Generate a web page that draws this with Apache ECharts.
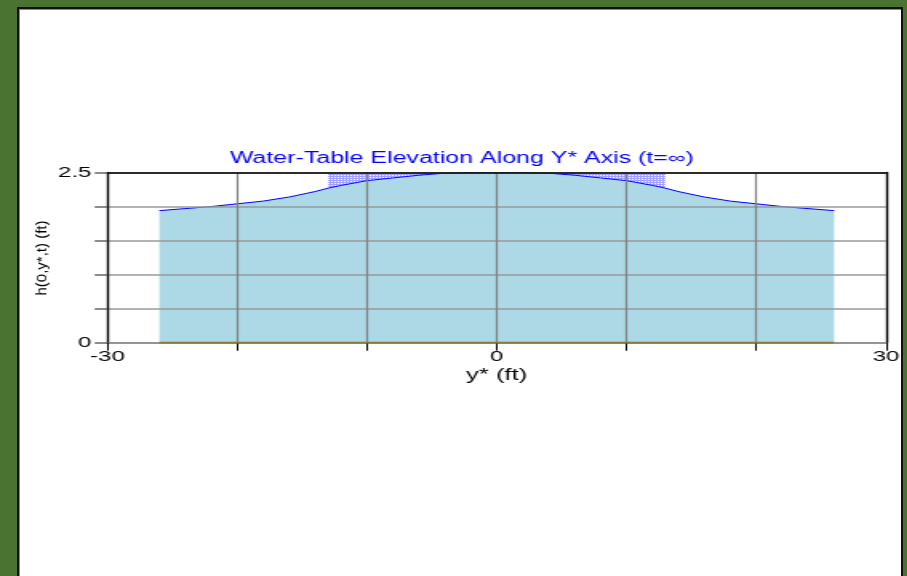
<!DOCTYPE html>
<html>
<head>
<meta charset="utf-8">
<script src="https://cdn.jsdelivr.net/npm/echarts@6/dist/echarts.min.js"></script>
<style>
  html, body { margin: 0; padding: 0; width: 907px; height: 576px; overflow: hidden; background: #4a7332; }
  #panel {
    position: absolute; left: 17px; top: 7px; width: 882px; height: 600px;
    background: #ffffff; border: 2px solid #111111; box-shadow: inset 1px 1px 0 #8a8a8a;
  }
  /* the plot is laid out narrow and widened, giving the broad lettering of the original viewer */
  #chart {
    position: absolute; left: 0; top: 0; width: 567px; height: 576px;
    transform: scaleX(1.6); transform-origin: 0 0;
  }
</style>
</head>
<body>
<div id="panel"></div>
<div id="chart"></div>
<script>
// Steady-state water-table profile along the y* axis
const yStar = [-26, -24, -22, -20, -18, -16, -14, -13, -12, -10, -8, -6, -4, -2, 0,
               2, 4, 6, 8, 10, 12, 13, 14, 16, 18, 20, 22, 24, 26];
const head  = [1.94, 1.97, 2.00, 2.04, 2.08, 2.14, 2.22, 2.27, 2.31, 2.38, 2.42, 2.46, 2.49, 2.50, 2.50,
               2.50, 2.49, 2.46, 2.42, 2.38, 2.31, 2.27, 2.22, 2.14, 2.08, 2.04, 2.00, 1.97, 1.94];
// Recharge strip (meshed band above the mound)
const rechargeZone = [-13, 13];
// Tick values that carry a label
const xLabelled = [-30, 0, 30];
const yLabelled = [0, 2.5];

const S = 1.6;            // horizontal widening of the chart layer
const W = 567;            // chart layer width before widening
const FONT = 'Liberation Sans, Arial, Helvetica, sans-serif';

const profile = yStar.map((y, i) => [y, head[i]]);
const recharge = profile.filter(p => p[0] >= rechargeZone[0] && p[0] <= rechargeZone[1]);
const base = [[yStar[0], 0], [yStar[yStar.length - 1], 0]];

function meshPattern() {
  const c = document.createElement('canvas');
  c.width = 2; c.height = 2;
  const g = c.getContext('2d');
  g.fillStyle = '#ffffff'; g.fillRect(0, 0, 2, 2);
  g.fillStyle = '#a0a0ff'; g.fillRect(0, 0, 2, 1); g.fillRect(0, 0, 1, 2);
  return c;
}

const chart = echarts.init(document.getElementById('chart'), null, { renderer: 'canvas' });
chart.setOption({
  animation: false,
  title: {
    text: 'Water-Table Elevation Along Y* Axis (t=∞)',
    left: 454 / S, top: 145.5, textAlign: 'center',
    textStyle: { color: '#0000ff', fontSize: 15.6, fontWeight: 'normal', fontFamily: FONT }
  },
  grid: { left: 107.5 / S, right: W - 886 / S, top: 172.5, bottom: 576 - 342.7 },
  xAxis: [{
    type: 'value', min: -30, max: 30, interval: 10, z: 5,
    axisLine: { show: true, onZero: false, lineStyle: { color: '#8a8a8a', width: 1.5 } },
    axisTick: { show: true, length: 8, lineStyle: { color: '#000000', width: 1 } },
    axisLabel: {
      margin: 7, fontSize: 15, color: '#000000', fontFamily: FONT,
      formatter: v => (xLabelled.includes(v) ? String(v) : '')
    },
    splitLine: { show: true, lineStyle: { color: '#808080', width: 1.2 } },
    name: 'y* (ft)', nameLocation: 'middle', nameGap: 25,
    nameTextStyle: { fontSize: 16, color: '#000000', fontFamily: FONT }
  }, {
    type: 'value', position: 'top', min: -30, max: 30, z: 5,
    axisLine: { show: true, onZero: false, lineStyle: { color: '#000000', width: 1.5 } },
    axisTick: { show: false }, axisLabel: { show: false }, splitLine: { show: false }
  }],
  yAxis: [{
    type: 'value', min: 0, max: 2.5, interval: 0.5, z: 5,
    axisLine: { show: true, onZero: false, lineStyle: { color: '#000000', width: 1.3 } },
    axisTick: { show: true, length: 8, lineStyle: { color: '#666666', width: 1.5 } },
    axisLabel: {
      margin: 10, fontSize: 15, color: '#000000', fontFamily: FONT,
      formatter: v => (yLabelled.includes(v) ? String(v) : '')
    },
    splitLine: { show: true, lineStyle: { color: '#9a9a9a', width: 1.5 } }
  }, {
    type: 'value', position: 'right', min: 0, max: 2.5, z: 5,
    axisLine: { show: true, onZero: false, lineStyle: { color: '#000000', width: 1.3 } },
    axisTick: { show: false }, axisLabel: { show: false }, splitLine: { show: false }
  }],
  graphic: [{
    type: 'text', x: 41.5 / S, y: 258, rotation: Math.PI / 2, scaleY: 0.66,
    style: { text: 'h(0,y*,t) (ft)', fontSize: 15, fill: '#000000', align: 'center',
             verticalAlign: 'middle', fontFamily: FONT }
  }],
  series: [{
    type: 'line', data: profile, symbol: 'none', z: 2,
    lineStyle: { color: '#0000ff', width: 1 },
    areaStyle: { color: '#add8e6', opacity: 1 }
  }, {
    type: 'line', data: recharge, symbol: 'none', z: 1,
    lineStyle: { width: 0 },
    areaStyle: { origin: 'end', opacity: 1, color: { image: meshPattern(), repeat: 'repeat' } }
  }, {
    type: 'line', data: base, symbol: 'none', z: 6,
    lineStyle: { color: '#8c7a3c', width: 2 }
  }]
});
</script>
</body>
</html>
